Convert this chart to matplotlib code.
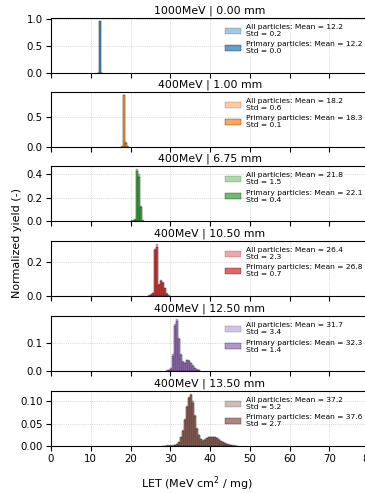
import matplotlib
matplotlib.use("Agg")
import matplotlib.pyplot as plt
from matplotlib.patches import Patch

# histogram data: bins of 0.5 MeV cm2/mg starting at let_start
titles = ['1000MeV | 0.00 mm', '400MeV | 1.00 mm', '400MeV | 6.75 mm',
          '400MeV | 10.50 mm', '400MeV | 12.50 mm', '400MeV | 13.50 mm']
let_start = [11.5, 17.5, 20.0, 24.5, 29.0, 28.0]
bin_width = 0.5

all_yield = [
    [0.005, 0.975, 0.008],
    [0.01, 0.875, 0.08, 0.01],
    [0.005, 0.01, 0.02, 0.45, 0.40, 0.13, 0.01],
    [0.005, 0.01, 0.02, 0.28, 0.31, 0.07, 0.095, 0.08, 0.05, 0.015, 0.005],
    [0.002, 0.004, 0.01, 0.06, 0.17, 0.19, 0.12, 0.06, 0.035, 0.03, 0.04,
     0.04, 0.03, 0.02, 0.012, 0.006, 0.003],
    [0.001, 0.001, 0.002, 0.002, 0.002, 0.002, 0.003, 0.005, 0.01, 0.02,
     0.035, 0.06, 0.09, 0.11, 0.117, 0.10, 0.07, 0.04, 0.025, 0.016, 0.013,
     0.015, 0.018, 0.02, 0.021, 0.021, 0.02, 0.018, 0.015, 0.012, 0.009,
     0.007, 0.005, 0.004, 0.003, 0.002, 0.0015, 0.001],
]
primary_yield = [
    [0.0, 0.975, 0.0],
    [0.0, 0.88, 0.07, 0.0],
    [0.0, 0.0, 0.005, 0.43, 0.38, 0.12, 0.0],
    [0.0, 0.003, 0.015, 0.275, 0.29, 0.065, 0.09, 0.075, 0.045, 0.012, 0.002],
    [0.0, 0.002, 0.008, 0.055, 0.165, 0.18, 0.115, 0.058, 0.034, 0.03, 0.039,
     0.038, 0.029, 0.019, 0.011, 0.005, 0.002],
    [0.0, 0.0, 0.0, 0.0, 0.0, 0.0, 0.002, 0.004, 0.009, 0.019,
     0.033, 0.057, 0.087, 0.107, 0.113, 0.097, 0.068, 0.039, 0.024, 0.015, 0.012,
     0.014, 0.017, 0.019, 0.02, 0.02, 0.019, 0.017, 0.014, 0.011, 0.008,
     0.006, 0.004, 0.003, 0.002, 0.001, 0.001, 0.0005],
]
all_mean = [12.2, 18.2, 21.8, 26.4, 31.7, 37.2]
all_std = [0.2, 0.6, 1.5, 2.3, 3.4, 5.2]
prim_mean = [12.2, 18.3, 22.1, 26.8, 32.3, 37.6]
prim_std = [0.0, 0.1, 0.4, 0.7, 1.4, 2.7]
y_ticks = [[0.0, 0.5, 1.0], [0.0, 0.5], [0.0, 0.2, 0.4], [0.0, 0.2],
           [0.0, 0.1], [0.0, 0.05, 0.10]]
colors = ['tab:blue', 'tab:orange', 'tab:green', 'tab:red', 'tab:purple', 'tab:brown']

W, H = 365, 493
fig = plt.figure(figsize=(W / 100, H / 100), dpi=100)
tops = [18, 92, 166, 241, 316, 391]
left, right, ph = 51, 369, 55

axes = []
for i in range(6):
    ax = fig.add_axes([left / W, 1 - (tops[i] + ph) / H, (right - left) / W, ph / H],
                      sharex=axes[0] if axes else None)
    axes.append(ax)
    c = colors[i]
    edges = [let_start[i] + k * bin_width for k in range(len(all_yield[i]))]
    ax.bar(edges, all_yield[i], width=bin_width, align='edge', color=c, alpha=0.4,
           edgecolor='black', linewidth=0.3, zorder=2)
    ax.bar(edges, primary_yield[i], width=bin_width, align='edge', color=c, alpha=0.7,
           edgecolor='black', linewidth=0.3, zorder=3)
    handles = [Patch(facecolor=c, alpha=0.4, edgecolor='black', linewidth=0.3),
               Patch(facecolor=c, alpha=0.7, edgecolor='black', linewidth=0.3)]
    labels = [f'All particles: Mean = {all_mean[i]:.1f}\nStd = {all_std[i]:.1f}',
              f'Primary particles: Mean = {prim_mean[i]:.1f}\nStd = {prim_std[i]:.1f}']
    ax.legend(handles, labels, loc='upper right', fontsize=5.4, frameon=False,
              handlelength=2.1, handleheight=0.8, labelspacing=0.55,
              borderaxespad=0.45, handletextpad=0.7)
    ax.set_title(titles[i], fontsize=7.8, pad=3.5)
    ax.set_yticks(y_ticks[i])
    if i == 5:
        ax.set_yticklabels([f'{v:.2f}' for v in y_ticks[i]])
    else:
        ax.set_yticklabels([f'{v:.1f}' for v in y_ticks[i]])
    ax.tick_params(labelsize=7.4, length=3.5, width=0.8, pad=2.5)
    ax.grid(True, linestyle=':', linewidth=0.5, color='#bbbbbb', zorder=0)
    ax.set_axisbelow(True)
    if i < 5:
        ax.tick_params(labelbottom=False)

axes[0].set_xlim(0, 80)
axes[0].set_xticks(range(0, 90, 10))

fig.text(197 / W, 1 - 484 / H, 'LET (MeV cm$^2$ / mg)', fontsize=8,
         ha='center', va='center')
fig.text(17 / W, 1 - 243 / H, 'Normalized yield (-)', fontsize=8,
         ha='center', va='center', rotation=90)

fig.savefig('out.png', dpi=100)
